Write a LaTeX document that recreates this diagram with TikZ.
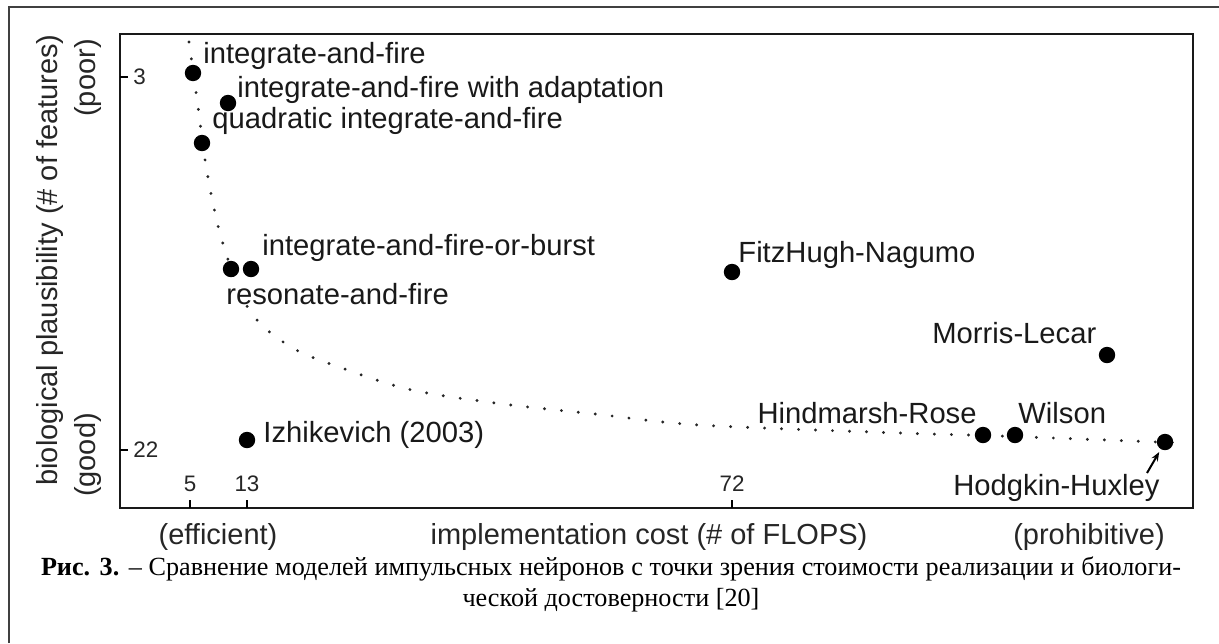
\documentclass[tikz,border=0pt]{standalone}
\usepackage{fontspec}
\setmainfont{Liberation Serif}
\newfontfamily\lsans{Liberation Sans}
\usetikzlibrary{arrows.meta}
\newsavebox\capbox
\newlength\caplen
\newcommand\capone{\textbf{Рис. 3.} – Сравнение моделей импульсных нейронов с точки зрения стоимости реализации и биологи-}
\begin{document}
\sbox\capbox{\fontsize{10}{12}\selectfont\capone}%
\setlength\caplen{\wd\capbox}%
\pgfmathsetmacro\capfs{10*568/\caplen}%
\begin{tikzpicture}[x=0.5pt,y=-0.5pt,
  border/.style={draw=black!75,line width=0.8pt},
  frame/.style={draw=black!90,line width=1.3pt},
  tickmark/.style={draw=black,line width=1pt},
  pt/.style={circle,fill=black,inner sep=0pt,minimum size=8.2pt},
  lab/.style={font=\lsans\fontsize{14.6}{16}\selectfont,inner sep=0pt,anchor=base west,text=black!90},
  ticklab/.style={font=\lsans\fontsize{11.2}{12}\selectfont,inner sep=0pt,text=black!85},
  axlab/.style={font=\lsans\fontsize{14.5}{16}\selectfont,inner sep=0pt,text=black!85},
  curve/.style={draw=black!85,line width=1.6pt,line cap=round,dash pattern=on 0pt off 8.5pt},
  caption/.style={font=\fontsize{\capfs}{13}\selectfont,inner sep=0pt,anchor=base}
]
\useasboundingbox (0,0) rectangle (1219,643);
% outer border (only top and left visible)
\coordinate (b1) at (9,643);
\coordinate (b2) at (9,7);
\coordinate (b3) at (1219,7);
\draw[border] (b1) -- (b2) -- (b3);
% plot frame
\coordinate (fa) at (120,34);
\coordinate (fb) at (1193,508);
\draw[frame] (fa) rectangle (fb);
% y ticks
\coordinate (ty3a) at (120,77); \coordinate (ty3b) at (128,77);
\coordinate (ty22a) at (120,450); \coordinate (ty22b) at (128,450);
\draw[tickmark] (ty3a) -- (ty3b);
\draw[tickmark] (ty22a) -- (ty22b);
\node[ticklab,anchor=west] (l3) at (133,77) {3};
\node[ticklab,anchor=west] (l22) at (133,450) {22};
% x ticks
\coordinate (tx5a) at (190,508); \coordinate (tx5b) at (190,500);
\coordinate (tx13a) at (247,508); \coordinate (tx13b) at (247,500);
\coordinate (tx72a) at (732,508); \coordinate (tx72b) at (732,500);
\draw[tickmark] (tx5a) -- (tx5b);
\draw[tickmark] (tx13a) -- (tx13b);
\draw[tickmark] (tx72a) -- (tx72b);
\node[ticklab,anchor=base] (l5) at (190,491) {5};
\node[ticklab,anchor=base] (l13) at (247,491) {13};
\node[ticklab,anchor=base] (l72) at (732,491) {72};
% dotted trade-off curve
\draw[curve] plot[smooth,tension=0.55] coordinates {(189,42) (197,99) (207,172) (223,244) (250,311) (291,347) (342,368) (412,390) (503,404) (595,414) (700,425) (900,433) (1000,436) (1183,443)};
% model points
\node[pt] (iaf) at (193,73) {};
\node[pt] (iafa) at (228,103) {};
\node[pt] (qiaf) at (202,143) {};
\node[pt] (raf) at (231,269) {};
\node[pt] (iafb) at (251,269) {};
\node[pt] (fhn) at (732,272) {};
\node[pt] (ml) at (1107,355) {};
\node[pt] (izh) at (247,440) {};
\node[pt] (hr) at (983,435) {};
\node[pt] (wil) at (1015,435) {};
\node[pt] (hh) at (1165,442) {};
% labels
\node[lab] (tiaf) at (203,63) {integrate-and-fire};
\node[lab] (tiafa) at (237,97) {integrate-and-fire with adaptation};
\node[lab] (tqiaf) at (212,128) {quadratic integrate-and-fire};
\node[lab] (tiafb) at (262,255) {integrate-and-fire-or-burst};
\node[lab] (traf) at (226,304) {resonate-and-fire};
\node[lab] (tfhn) at (738,262) {FitzHugh-Nagumo};
\node[lab] (tml) at (932,343) {Morris-Lecar};
\node[lab] (tizh) at (263,442) {Izhikevich (2003)};
\node[lab,anchor=base east] (thr) at (977,423) {Hindmarsh-Rose};
\node[lab] (twil) at (1018,423) {Wilson};
\node[lab] (thh) at (953,495) {Hodgkin-Huxley};
\coordinate (hhtail) at (1147,473);
\draw[line width=1pt,-{Stealth[length=4.5pt,width=3.5pt]},shorten >=1.5pt] (hhtail) -- (hh);
% axis labels
\node[axlab] (xe) at (218,537) {(efficient)};
\node[axlab] (xm) at (649,537) {implementation cost (\# of FLOPS)};
\node[axlab] (xp) at (1089,537) {(prohibitive)};
\node[axlab,rotate=90] (ym) at (50,260) {biological plausibility (\# of features)};
\node[axlab,rotate=90] (yp) at (88,78) {(poor)};
\node[axlab,rotate=90] (yg) at (88,455) {(good)};
% caption
\node[caption] (cap1) at (611,575) {\makebox[570pt][s]{\capone}};
\node[caption] (cap2) at (611,606) {ческой достоверности [20]};
\end{tikzpicture}
\end{document}
